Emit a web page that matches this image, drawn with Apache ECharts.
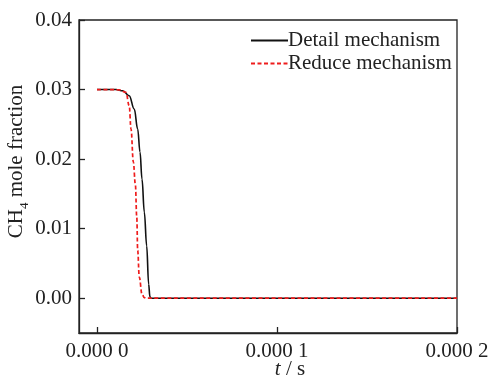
<!DOCTYPE html>
<html>
<head>
<meta charset="utf-8">
<script src="https://cdn.jsdelivr.net/npm/echarts@6/dist/echarts.min.js"></script>
<style>html,body{margin:0;padding:0;background:#fff}#c{width:488px;height:377px}</style>
</head>
<body>
<div id="c"></div>
<script>
// Detail mechanism (black solid)
const tDetail = [0, 0.0000106, 0.0000143, 0.0000179, 0.0000207, 0.0000226, 0.0000239, 0.0000250, 0.0000263, 0.0000276, 0.0000287, 0.0000294, 0.0000300, 0.0002];
const yDetail = [0.0300, 0.0300, 0.02983, 0.02911, 0.02719, 0.02432, 0.02101, 0.01712, 0.01237, 0.00752, 0.00201, 0.00019, 0.0000, 0.0000];
// Reduce mechanism (red dashed)
const tReduce = [0, 0.0000089, 0.0000122, 0.0000161, 0.0000179, 0.0000189, 0.0000202, 0.0000213, 0.0000221, 0.0000226, 0.0000235, 0.0000250, 0.0000263, 0.0000272, 0.0002];
const yReduce = [0.0300, 0.0300, 0.02995, 0.02960, 0.02767, 0.02432, 0.01957, 0.01640, 0.01165, 0.00688, 0.00302, 0.00058, 0.0001, 0.0000, 0.0000];
const seriesNames = ['Detail mechanism', 'Reduce mechanism'];
const xTickValues = [0, 0.0001, 0.0002];
const xTickLabels = ['0.000 0', '0.000 1', '0.000 2'];
const yTickValues = [0, 0.01, 0.02, 0.03, 0.04];
const yTickLabels = ['0.00', '0.01', '0.02', '0.03', '0.04'];

const FONT = 'Liberation Serif';
const FS = 21;
const chart = echarts.init(document.getElementById('c'));
const pairs = (xs, ys) => xs.map((x, i) => [x, ys[i]]);
chart.setOption({
  animation: false,
  backgroundColor: '#fff',
  textStyle: { fontFamily: FONT },
  grid: { left: 79, top: 20, right: 31, bottom: 44, outerBoundsMode: 'none', containLabel: false,
    show: true, borderColor: '#222', borderWidth: 1.3, backgroundColor: 'transparent' },
  legend: {
    orient: 'vertical', left: 250, top: 30, itemWidth: 37, itemHeight: 14, itemGap: 2,
    padding: 0,
    itemStyle: { opacity: 0 },
    textStyle: { fontFamily: FONT, fontSize: FS, color: '#222', padding: [0, 0, 0, -5] },
    data: seriesNames
  },
  xAxis: {
    type: 'value', min: -0.00001, max: 0.0002,
    splitLine: { show: false },
    axisLine: { onZero: false, lineStyle: { color: '#222', width: 1.3 } },
    axisTick: { inside: true, length: 6, customValues: xTickValues, lineStyle: { color: '#222', width: 1.3 } },
    axisLabel: {
      customValues: xTickValues, margin: 8, color: '#222', fontFamily: FONT, fontSize: FS,
      formatter: v => { const i = xTickValues.findIndex(t => Math.abs(t - v) < 1e-9); return i >= 0 ? xTickLabels[i] : ''; }
    },
    name: '{i|t} / s', nameLocation: 'middle', nameGap: 26, nameMoveOverlap: false,
    nameTextStyle: { fontFamily: FONT, fontSize: FS, color: '#222', padding: [0, 0, 0, 44],
      rich: { i: { fontFamily: FONT, fontSize: FS, fontStyle: 'italic', color: '#222' } } }
  },
  yAxis: {
    type: 'value', min: -0.005, max: 0.04,
    splitLine: { show: false },
    axisLine: { show: true, onZero: false, lineStyle: { color: '#222', width: 1.3 } },
    axisTick: { show: true, inside: true, length: 6, customValues: yTickValues, lineStyle: { color: '#222', width: 1.3 } },
    axisLabel: {
      customValues: yTickValues, margin: 7, color: '#222', fontFamily: FONT, fontSize: FS,
      formatter: v => { const i = yTickValues.findIndex(t => Math.abs(t - v) < 1e-9); return i >= 0 ? yTickLabels[i] : ''; }
    },
    name: '{a|CH}{s|4}{a| mole fraction}', nameLocation: 'middle', nameGap: 52, nameMoveOverlap: false,
    nameTextStyle: { fontFamily: FONT, fontSize: FS, color: '#222', padding: [0, 0, 0, 30],
      rich: {
        a: { fontFamily: FONT, fontSize: FS, color: '#222', lineHeight: 24, verticalAlign: 'bottom' },
        s: { fontFamily: FONT, fontSize: 13, color: '#222', lineHeight: 20, verticalAlign: 'bottom', padding: [0, 0, -4, 0] }
      } }
  },
  series: [
    { name: seriesNames[0], type: 'line', data: pairs(tDetail, yDetail), symbol: 'none', smooth: 0.4, smoothMonotone: 'x',
      lineStyle: { color: '#111', width: 1.6 }, itemStyle: { color: '#111' } },
    { name: seriesNames[1], type: 'line', data: pairs(tReduce, yReduce), symbol: 'none', smooth: 0.4, smoothMonotone: 'x',
      lineStyle: { color: '#ee1c1c', width: 1.7, type: [4, 2.5] }, itemStyle: { color: '#ee1c1c' } }
  ]
});
</script>
</body>
</html>
